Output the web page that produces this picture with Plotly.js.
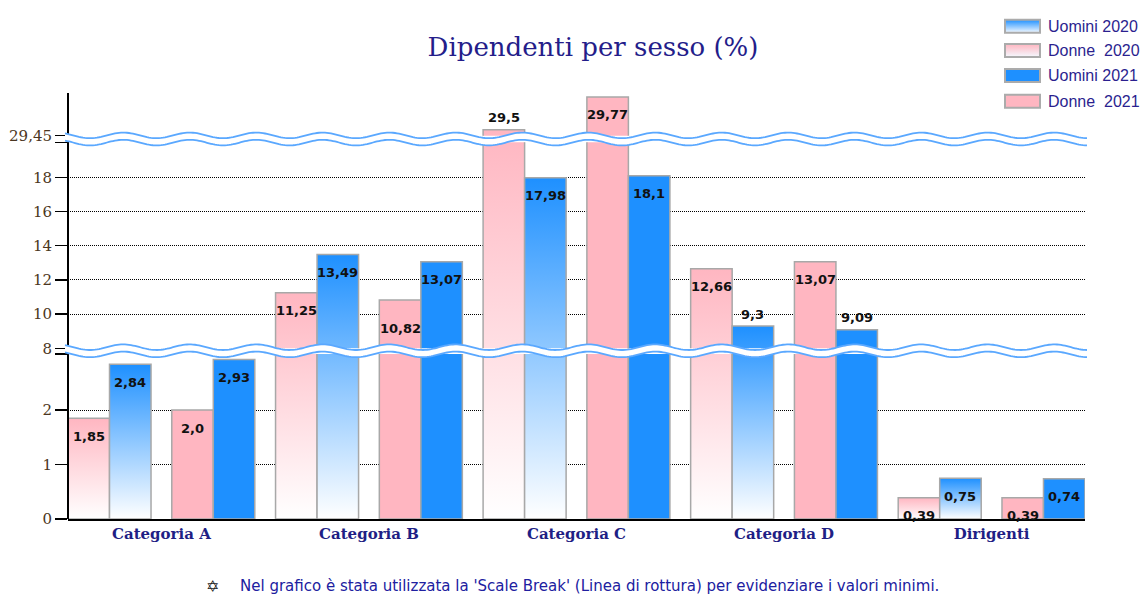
<!DOCTYPE html>
<html><head><meta charset="utf-8">
<script src="https://cdn.plot.ly/plotly-3.0.1.min.js"></script>
<style>html,body{margin:0;padding:0;background:#fff}#chart{width:1147px;height:595px}</style>
</head><body><div id="chart"></div>
<script>
// ---------------- DATA ----------------
const categories = ['Categoria A', 'Categoria B', 'Categoria C', 'Categoria D', 'Dirigenti'];
const donne2020  = [1.85, 11.25, 29.5, 12.66, 0.39];
const uomini2020 = [2.84, 13.49, 17.98, 9.3, 0.75];
const donne2021  = [2.0, 10.82, 29.77, 13.07, 0.39];
const uomini2021 = [2.93, 13.07, 18.1, 9.09, 0.74];
const labelsDonne2020  = ['1,85', '11,25', '29,5', '12,66', '0,39'];
const labelsUomini2020 = ['2,84', '13,49', '17,98', '9,3', '0,75'];
const labelsDonne2021  = ['2,0', '10,82', '29,77', '13,07', '0,39'];
const labelsUomini2021 = ['2,93', '13,07', '18,1', '9,09', '0,74'];
const yTickVals = [[0, 1, 2, 3.03], [8, 10, 12, 14, 16, 18, 20.05], [29.45]];
const yTickText = [['0', '1', '2', ''], ['8', '10', '12', '14', '16', '18', ''], ['29,45']];
const legendNames = ['Uomini 2020', 'Donne\u00a0 2020', 'Uomini 2021', 'Donne\u00a0 2021'];
const footnote = "Nel grafico è stata utilizzata la 'Scale Break' (Linea di rottura) per evidenziare i valori minimi.";

// ---------------- STYLE / LAYOUT ----------------
const L = 68, R = 1085, T = 93, B = 519;
const pxX = px => (px - L) / (R - L);
const pxY = py => (B - py) / (B - T);
const segRanges = [[0, 3.03], [8, 20.05], [29.45, 29.803]];
const segDomains = [[0, pxY(354)], [pxY(348.3), pxY(142.3)], [pxY(135.7), 1]];
const segAxisIds = ['y', 'y2', 'y3'];
const segOf = v => (v >= segRanges[2][0] ? 2 : (v >= segRanges[1][0] ? 1 : 0));
const offsets = [-0.45, -0.25, 0.05, 0.25];
const barW = 0.2;

const series = [
  {vals: donne2020,  labels: labelsDonne2020,  color: '#ffd9df', grad: ['#FFB6C1', '#FFFFFF'],
   outside: [false, false, true, false, false], shift: [null, null, null, null, null]},
  {vals: uomini2020, labels: labelsUomini2020, color: '#8cc4ff', grad: ['#1E90FF', '#FFFFFF'],
   outside: [false, false, false, true, false], shift: [null, null, null, null, null]},
  {vals: donne2021,  labels: labelsDonne2021,  color: '#FFB6C1',
   outside: [false, false, false, false, false], shift: [null, -28, null, null, null]},
  {vals: uomini2021, labels: labelsUomini2021, color: '#1E90FF',
   outside: [false, false, false, true, false], shift: [null, null, null, null, null]}
];
// legend rows map to series index
const legendSeries = [1, 0, 3, 2];

const traces = [];
segAxisIds.forEach((ax, s) => {
  series.forEach((se, k) => {
    traces.push({
      type: 'bar', x: categories, y: se.vals, xaxis: 'x', yaxis: ax,
      width: barW, offset: offsets[k],
      marker: {color: se.color, line: {color: '#a8a8a8', width: 1.5}},
      showlegend: false, hoverinfo: 'skip', meta: {k: k, s: s}
    });
  });
});

function yAxisDef(s) {
  return {
    domain: segDomains[s], range: segRanges[s], anchor: 'x',
    tickmode: 'array', tickvals: yTickVals[s], ticktext: yTickText[s],
    ticks: 'outside', ticklen: 12, tickwidth: 1.5, tickcolor: '#000',
    showgrid: true, gridcolor: '#000', gridwidth: 1, griddash: '1px,1px',
    zeroline: false, showline: false, fixedrange: true,
    tickfont: {family: 'DejaVu Serif', size: 15, color: '#4b3621'}
  };
}

function waveLine(dy) {
  let d = '';
  for (let x = -3; x <= 1020; x += 2) {
    const y = dy - 2.8 * Math.cos(2 * Math.PI * (x - 22) / 66.5);
    d += (x === -3 ? 'M' : 'L') + x + ',' + y.toFixed(2);
  }
  return d;
}
function waveBand(h) {
  const up = [], lo = [];
  for (let x = -3; x <= 1020; x += 2) {
    const w = -2.8 * Math.cos(2 * Math.PI * (x - 22) / 66.5);
    up.push(x + ',' + (w + h).toFixed(2));
    lo.unshift(x + ',' + (w - h).toFixed(2));
  }
  return 'M' + up.join('L') + 'L' + lo.join('L') + 'Z';
}

const shapes = [];
// y axis line (continuous through breaks)
shapes.push({type: 'line', xref: 'paper', yref: 'paper', x0: 0, x1: 0, y0: 0, y1: 1,
  line: {color: '#000', width: 2}});
// scale break waves
[139, 350.8].forEach(cy => {
  const base = {type: 'path', xref: 'paper', yref: 'paper', xsizemode: 'pixel', ysizemode: 'pixel',
    xanchor: 0, yanchor: pxY(cy)};
  shapes.push(Object.assign({}, base, {path: waveBand(3.6), fillcolor: '#ffffff', line: {width: 0}}));
  shapes.push(Object.assign({}, base, {path: waveLine(3.6), fillcolor: 'rgba(0,0,0,0)', line: {color: '#5aa8ff', width: 1.8}}));
  shapes.push(Object.assign({}, base, {path: waveLine(-3.6), fillcolor: 'rgba(0,0,0,0)', line: {color: '#5aa8ff', width: 1.8}}));
});
// legend swatches
const legendY = [26.2, 50.6, 75.6, 101.2];
const swatchIdx = [];
legendSeries.forEach((k, r) => {
  swatchIdx.push(shapes.length);
  shapes.push({type: 'rect', xref: 'paper', yref: 'paper',
    x0: pxX(1005), x1: pxX(1040), y0: pxY(legendY[r] + 6.5), y1: pxY(legendY[r] - 6.5),
    fillcolor: series[k].color, line: {color: '#ababab', width: 2}});
});

const annotations = [];
series.forEach((se, k) => {
  se.vals.forEach((v, i) => {
    const s = segOf(v);
    const sh = se.shift[i] != null ? se.shift[i] : (se.outside[i] ? 12 : -18);
    annotations.push({x: i + offsets[k] + barW / 2, y: v, xref: 'x', yref: segAxisIds[s],
      text: se.labels[i], showarrow: false, xanchor: 'center', yanchor: 'middle', yshift: sh,
      font: {family: 'DejaVu Sans', size: 13, weight: 'bold', color: '#111111'}});
  });
});
legendNames.forEach((n, r) => {
  annotations.push({x: pxX(1046), y: pxY(legendY[r]), xref: 'paper', yref: 'paper', text: n,
    showarrow: false, xanchor: 'left', yanchor: 'middle',
    font: {family: 'Liberation Sans', size: 16, color: '#2b1f8f'}});
});
annotations.push({x: pxX(212), y: pxY(586), xref: 'paper', yref: 'paper', text: '\u2721', showarrow: false,
  xanchor: 'center', yanchor: 'middle', font: {family: 'DejaVu Sans', size: 16, color: '#222222'}});
annotations.push({x: pxX(238), y: pxY(586), xref: 'paper', yref: 'paper', text: footnote, showarrow: false,
  xanchor: 'left', yanchor: 'middle', font: {family: 'DejaVu Sans', size: 15, color: '#2020a0'}});

const layout = {
  width: 1147, height: 595,
  margin: {l: L, r: 1147 - R, t: T, b: 595 - B, pad: 0},
  paper_bgcolor: '#ffffff', plot_bgcolor: 'rgba(0,0,0,0)',
  barmode: 'overlay', showlegend: false,
  title: {text: 'Dipendenti per sesso (%)', font: {family: 'DejaVu Serif', size: 26, color: '#241d8a'},
    xref: 'container', x: 593 / 1147, xanchor: 'center', yref: 'container', y: 1 - 47 / 595, yanchor: 'middle'},
  xaxis: {type: 'category', range: [-0.45, 4.45], anchor: 'y', showline: true, linecolor: '#000', linewidth: 2,
    ticks: '', showgrid: false, zeroline: false, fixedrange: true,
    tickfont: {family: 'DejaVu Serif', size: 15, weight: 'bold', color: '#1f1f85'}},
  yaxis: yAxisDef(0), yaxis2: yAxisDef(1), yaxis3: yAxisDef(2),
  shapes: shapes, annotations: annotations
};

const gd = document.getElementById('chart');
const NS = 'http://www.w3.org/2000/svg';
function makeGrad(defs, id, c0, c1, units, y1, y2) {
  const g = document.createElementNS(NS, 'linearGradient');
  g.setAttribute('id', id);
  g.setAttribute('gradientUnits', units);
  g.setAttribute('x1', 0); g.setAttribute('x2', 0);
  g.setAttribute('y1', y1); g.setAttribute('y2', y2);
  [[0, c0], [1, c1]].forEach(([o, c]) => {
    const st = document.createElementNS(NS, 'stop');
    st.setAttribute('offset', o); st.setAttribute('stop-color', c);
    g.appendChild(st);
  });
  defs.appendChild(g);
}
function applyGradients() {
  const fl = gd._fullLayout;
  const axes = [fl.yaxis, fl.yaxis2, fl.yaxis3];
  const svg = gd.querySelector('svg.main-svg');
  let defs = svg.querySelector('defs');
  if (!defs) { defs = document.createElementNS(NS, 'defs'); svg.insertBefore(defs, svg.firstChild); }
  const pagePx = (s, v) => axes[s]._offset + axes[s].l2p(v);
  const bottomPx = pagePx(0, 0);
  gd.querySelectorAll('.barlayer .trace').forEach(tg => {
    const cd = tg.__data__;
    if (!cd || !cd[0] || !cd[0].trace) return;
    const m = cd[0].trace.meta;
    if (!m) return;
    const se = series[m.k];
    if (!se.grad) return;
    tg.querySelectorAll('.point').forEach((pg, idx) => {
      const pd = pg.__data__ || {};
      const i = (pd.i != null) ? pd.i : idx;
      const v = se.vals[i];
      const path = pg.querySelector('path');
      if (!path) return;
      const topPx = pagePx(segOf(v), v);
      const ctm = path.getCTM();
      const off = ctm ? ctm.f : axes[m.s]._offset;
      const id = 'bg_' + m.k + '_' + i + '_' + m.s;
      makeGrad(defs, id, se.grad[0], se.grad[1], 'userSpaceOnUse', topPx - off, bottomPx - off);
      path.style.fill = 'url(#' + id + ')';
    });
  });
  legendSeries.forEach((k, r) => {
    const se = series[k];
    if (!se.grad) return;
    const id = 'lg_' + k;
    makeGrad(defs, id, se.grad[0], '#f4f9ff', 'objectBoundingBox', 0, 1);
    gd.querySelectorAll('.shapelayer path[data-index="' + swatchIdx[r] + '"]').forEach(p => {
      p.style.fill = 'url(#' + id + ')';
    });
  });
}
Plotly.newPlot(gd, traces, layout, {staticPlot: true, displayModeBar: false}).then(applyGradients);
</script>
</body></html>
